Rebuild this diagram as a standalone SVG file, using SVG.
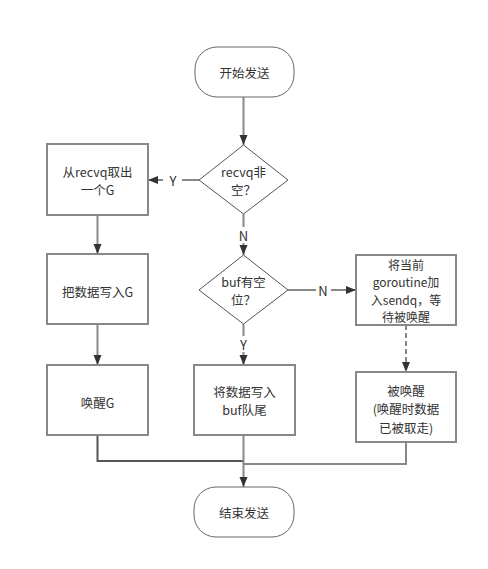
<svg xmlns="http://www.w3.org/2000/svg" width="488" height="569" viewBox="0 0 488 569">
<style>
.box{fill:#fff;stroke:#888;stroke-width:2}
.dia{fill:#fff;stroke:#555;stroke-width:1}
.ln{fill:none;stroke:#888;stroke-width:2}
.t{font-family:"Noto Sans CJK SC","Noto Sans",sans-serif;font-size:12.5px;fill:#333;text-anchor:middle;dominant-baseline:central}
.s{font-size:12px}
.lb{font-family:"Noto Sans CJK SC","Noto Sans",sans-serif;font-size:13px;fill:#333;text-anchor:middle;dominant-baseline:central}
</style>
<defs>
<marker id="ah" viewBox="0 0 10 10" refX="10" refY="5" markerWidth="10" markerHeight="10" markerUnits="userSpaceOnUse" orient="auto">
<path d="M0,1 L10,5 L0,9 Z" fill="#333"/>
</marker>
</defs>
<rect width="488" height="569" fill="#fff"/>
<g id="connectors">
<path class="ln" d="M243.5,97 V145" marker-end="url(#ah)"/>
<path class="ln" d="M199,180 H182 M163,180 H148" marker-end="url(#ah)"/>
<path class="ln" d="M243.5,214 V227 M243.5,243 V255" marker-end="url(#ah)"/>
<path class="ln" d="M97.5,215 V254" marker-end="url(#ah)"/>
<path class="ln" d="M97.5,324 V365" marker-end="url(#ah)"/>
<path class="ln" d="M288,290 H316 M331,290 H356" marker-end="url(#ah)"/>
<path class="ln" d="M243.5,324 V336 M243.5,352 V365" marker-end="url(#ah)"/>
<path class="ln" d="M406,325 V372" stroke-dasharray="5,3" marker-end="url(#ah)"/>
<path class="ln" d="M97.5,435 V461 H243.5" style="stroke:#555"/>
<path class="ln" d="M406,442 V464 H243.5"/>
<path class="ln" d="M243.5,435 V487" marker-end="url(#ah)"/>
<text class="lb" x="173" y="180">Y</text>
<text class="lb" x="243.5" y="235">N</text>
<text class="lb" x="323" y="290">N</text>
<text class="lb" x="243.5" y="344">Y</text>
</g>
<g id="start">
<rect class="box" x="195" y="47" width="99" height="50" rx="22" ry="22" style="stroke:#666;stroke-width:1"/>
<text class="t" x="244.5" y="72">开始发送</text>
</g>
<g id="cond1">
<polygon class="dia" points="243.5,145 288,180 243.5,214 199,180"/>
<text class="t" x="243.5" y="171">recvq非</text>
<text class="t" x="243.5" y="189.2">空？</text>
</g>
<g id="take">
<rect class="box" x="47" y="144" width="101" height="71"/>
<text class="t" x="97.5" y="171">从recvq取出</text>
<text class="t" x="97.5" y="189.2">一个G</text>
</g>
<g id="writeG">
<rect class="box" x="47" y="254" width="101" height="70"/>
<text class="t" x="97.5" y="291">把数据写入G</text>
</g>
<g id="wakeG">
<rect class="box" x="47" y="365" width="101" height="70"/>
<text class="t" x="97.5" y="402">唤醒G</text>
</g>
<g id="cond2">
<polygon class="dia" points="243.5,255 288,290 243.5,324 199,290"/>
<text class="t" x="243.5" y="281">buf有空</text>
<text class="t" x="243.5" y="299.2">位？</text>
</g>
<g id="writeBuf">
<rect class="box" x="194" y="365" width="101" height="70"/>
<text class="t" x="244.5" y="391">将数据写入</text>
<text class="t" x="244.5" y="409.2">buf队尾</text>
</g>
<g id="enqueue">
<rect class="box" x="356" y="255" width="100" height="70"/>
<text class="t s" x="406" y="264">将当前</text>
<text class="t s" x="406" y="281.5">goroutine加</text>
<text class="t s" x="406" y="299">入sendq，等</text>
<text class="t s" x="406" y="316.5">待被唤醒</text>
</g>
<g id="woken">
<rect class="box" x="356" y="372" width="100" height="70"/>
<text class="t" x="406" y="390">被唤醒</text>
<text class="t" x="406" y="408.5">(唤醒时数据</text>
<text class="t" x="406" y="427">已被取走)</text>
</g>
<g id="end">
<rect class="box" x="194" y="487" width="100" height="50" rx="22" ry="22" style="stroke:#666;stroke-width:1"/>
<text class="t" x="244" y="512">结束发送</text>
</g>
</svg>
